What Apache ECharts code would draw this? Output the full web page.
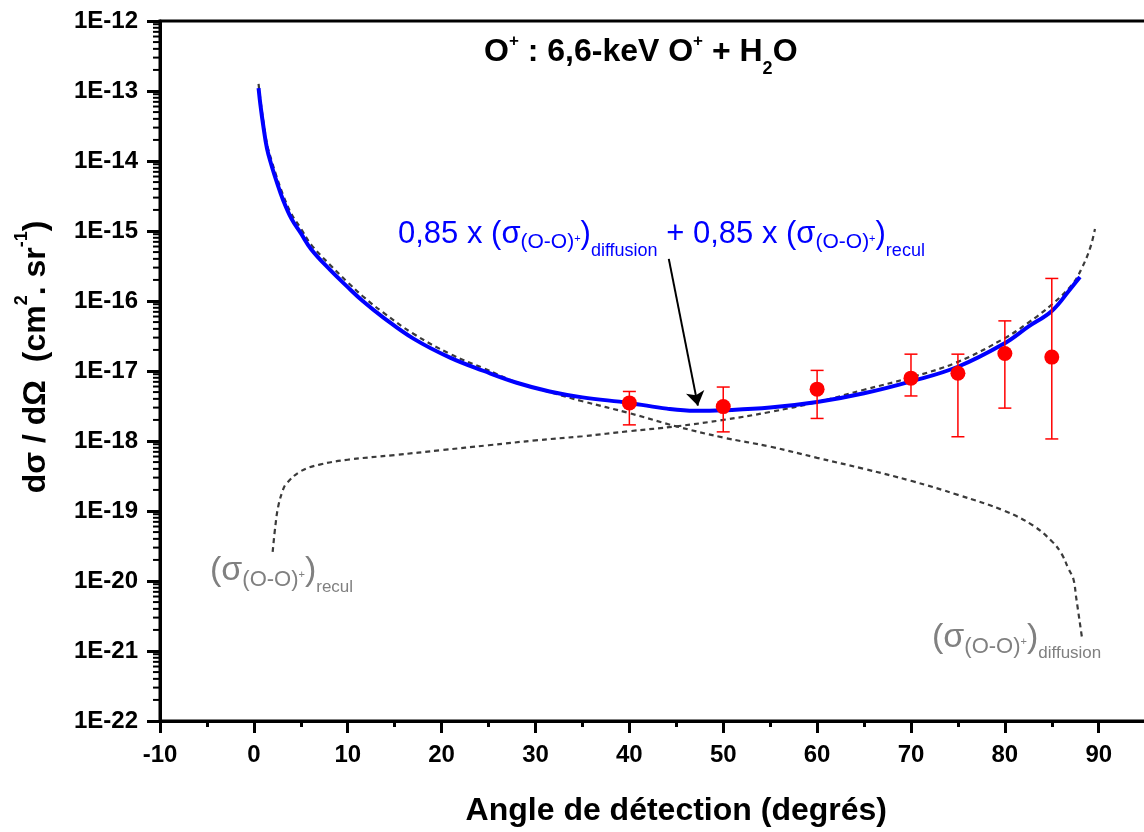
<!DOCTYPE html>
<html><head><meta charset="utf-8">
<script src="https://cdn.jsdelivr.net/npm/echarts@6/dist/echarts.min.js"></script>
<style>html,body{margin:0;padding:0;background:#fff}#c{width:1144px;height:832px}</style>
</head><body><div id="c"></div>
<script>
// ---- data ----
const blueAngle = [0.5, 0.7, 1.0, 1.4, 1.9, 2.4, 3.1, 4.0, 5.0, 6.1, 8.1, 10, 11.6, 13.8, 17, 20.9, 24.5, 28, 31.5, 35, 40, 44, 47, 50, 55, 60, 65, 70, 75, 80, 82.5, 85, 87, 88];
const blueValue = [1.1e-13, 6.3e-14, 3.2e-14, 1.5e-14, 8.5e-15, 5.2e-15, 2.8e-15, 1.5e-15, 9.3e-16, 5.5e-16, 2.8e-16, 1.58e-16, 1.0e-16, 5.8e-17, 2.9e-17, 1.55e-17, 1.0e-17, 6.8e-18, 5.1e-18, 4.2e-18, 3.5e-18, 2.9e-18, 2.7e-18, 2.75e-18, 3.0e-18, 3.6e-18, 4.8e-18, 7.1e-18, 1.15e-17, 2.5e-17, 4.3e-17, 7.2e-17, 1.5e-16, 2.2e-16];

const diffAngle = [0.5, 0.7, 1.0, 1.4, 1.9, 2.4, 3.1, 4.0, 5.0, 6.1, 8.1, 10, 11.6, 13.8, 17, 20.9, 24.5, 28, 31.5, 35, 40, 45, 50, 55, 60, 65, 70, 75, 80, 83, 85, 86, 86.8, 87.3, 87.6, 88.2];
const diffValue = [1.26e-13, 7.4e-14, 3.75e-14, 1.75e-14, 1.0e-14, 6.1e-15, 3.3e-15, 1.75e-15, 1.09e-15, 6.4e-16, 3.3e-16, 1.85e-16, 1.17e-16, 6.8e-17, 3.4e-17, 1.75e-17, 1.09e-17, 6.9e-18, 5.0e-18, 3.7e-18, 2.5e-18, 1.62e-18, 1.12e-18, 8.3e-19, 5.75e-19, 4.0e-19, 2.7e-19, 1.7e-19, 1.0e-19, 6.2e-20, 3.7e-20, 2.5e-20, 1.48e-20, 1.07e-20, 5.8e-21, 1.6e-21];

const reculAngle = [2.0, 2.3, 2.6, 3.1, 3.5, 5, 7, 10, 15, 20, 25, 30, 35, 40, 45, 50, 55, 60, 65, 70, 75, 80, 82.4, 85, 87.2, 88.2, 89.1, 89.6];
const reculValue = [2.6e-20, 6.3e-20, 1.17e-19, 2.0e-19, 2.5e-19, 3.7e-19, 4.6e-19, 5.4e-19, 6.3e-19, 7.4e-19, 8.7e-19, 1.02e-18, 1.17e-18, 1.38e-18, 1.62e-18, 2.0e-18, 2.6e-18, 3.6e-18, 5.4e-18, 8.1e-18, 1.35e-17, 2.95e-17, 4.8e-17, 8.9e-17, 1.74e-16, 2.95e-16, 5.8e-16, 1.07e-15];

const expAngle = [40, 50, 60, 70, 75, 80, 85];
const expValue = [3.5e-18, 3.1e-18, 5.5e-18, 7.9e-18, 9.3e-18, 1.78e-17, 1.58e-17];
const expHigh  = [5.1e-18, 5.9e-18, 1.02e-17, 1.74e-17, 1.74e-17, 5.2e-17, 2.1e-16];
const expLow   = [1.7e-18, 1.35e-18, 2.1e-18, 4.4e-18, 1.15e-18, 2.95e-18, 1.07e-18];

const arrowFrom = [44.2, 4.0e-16];
const arrowTo   = [47.3, 3.2e-18];

const xMin = -10, xMax = 100, xStep = 10;
const yMinExp = -22, yMaxExp = -12;
const yTickValues = [1e-22, 1e-21, 1e-20, 1e-19, 1e-18, 1e-17, 1e-16, 1e-15, 1e-14, 1e-13, 1e-12];

// ---- helpers ----
const FF = '"Liberation Sans", Arial, Helvetica, sans-serif';
function tk(size, off, extra) {
  return Object.assign({
    fontSize: size, fontFamily: FF, verticalAlign: 'middle',
    padding: off >= 0 ? [2 * off, 0, 0, 0] : [0, 0, -2 * off, 0]
  }, extra || {});
}
function zip(a, b) { return a.map((v, i) => [v, b[i]]); }

const minorTickVals = [];
for (let e = yMinExp; e < yMaxExp; e++) {
  for (let k = 2; k <= 9; k++) minorTickVals.push([xMin, k * Math.pow(10, e)]);
}

const chart = echarts.init(document.getElementById('c'), null, {renderer: 'canvas'});

const blueC = '#0000ff', greyC = '#808080';
function annot(x, y, text, color, mainSize, subSize, subOff, plusSize, plusOff, smallSize, smallOff, bold) {
  const w = bold ? 'bold' : 'normal';
  return {
    type: 'text', x: x, y: y, z: 100, silent: true,
    style: {
      text: text, align: 'left', verticalAlign: 'middle',
      rich: {
        m: tk(mainSize, 0, {fill: color, fontWeight: w, lineHeight: 70}),
        s: tk(subSize, subOff, {fill: color, fontWeight: w}),
        p: tk(plusSize, plusOff, {fill: color, fontWeight: w}),
        d: tk(smallSize, smallOff, {fill: color, fontWeight: w})
      }
    }
  };
}

const lineCommon = {symbol: 'none', smooth: 0.4, silent: true};

const option = {
  animation: false,
  backgroundColor: '#fff',
  grid: {left: 160, top: 21, width: 1032.6, height: 700, show: true, borderColor: '#000', borderWidth: 3,
    backgroundColor: 'transparent', containLabel: false, outerBoundsMode: 'none'},
  xAxis: {
    type: 'value', min: xMin, max: xMax, interval: xStep,
    name: 'Angle de détection (degrés)', nameLocation: 'middle', nameGap: 74,
    nameTextStyle: {fontSize: 32, fontWeight: 'bold', color: '#000', fontFamily: FF},
    axisLine: {show: true, onZero: false, lineStyle: {color: '#000', width: 3}},
    axisTick: {show: true, inside: false, length: 12, lineStyle: {color: '#000', width: 3}},
    minorTick: {show: true, splitNumber: 2, length: 6, lineStyle: {color: '#000', width: 3}},
    axisLabel: {fontSize: 24, fontWeight: 'bold', color: '#000', fontFamily: FF, margin: 22, showMinLabel: true},
    splitLine: {show: false}, minorSplitLine: {show: false}
  },
  yAxis: {
    type: 'log', logBase: 10, min: Math.pow(10, yMinExp), max: Math.pow(10, yMaxExp), splitNumber: 10, interval: 1,
    name: '{a|dσ / dΩ  (cm}{s|2}{a|. sr}{s|-1}{a|)}', nameLocation: 'middle', nameGap: 101, nameRotate: 90,
    nameMoveOverlap: false,
    nameTextStyle: {
      padding: [0, 0, 0, 28],
      rich: {
        a: tk(32, 0, {fontWeight: 'bold', color: '#000', lineHeight: 40}),
        s: tk(18, -14, {fontWeight: 'bold', color: '#000'})
      }
    },
    axisLine: {show: true, onZero: false, lineStyle: {color: '#000', width: 3}},
    axisTick: {show: true, inside: false, length: 13, customValues: yTickValues, lineStyle: {color: '#000', width: 3}},
    axisLabel: {fontSize: 24, fontWeight: 'bold', color: '#000', fontFamily: FF, margin: 22,
      customValues: yTickValues, showMinLabel: true, showMaxLabel: true, hideOverlap: false,
      formatter: v => '1E' + Math.round(Math.log10(v))},
    splitLine: {show: false}
  },
  graphic: [
    annot(484, 51.9, '{m|O}{p|+}{m| : 6,6-keV O}{p|+}{m| + H}{d|2}{m|O}', '#000', 32, 18, 0, 17, -11, 18, 17, true),
    annot(398, 234.4, '{m|0,85 x (σ}{s|(O-O)}{p|+}{m|)}{d|diffusion}{m| + 0,85 x (σ}{s|(O-O)}{p|+}{m|)}{d|recul}', blueC, 31, 21, 8.3, 11, 4.6, 18, 16.6, false),
    annot(210, 571, '{m|(σ}{s|(O-O)}{p|+}{m|)}{d|recul}', greyC, 34, 22, 8.7, 11, 4, 17, 16.1, false),
    annot(932, 638, '{m|(σ}{s|(O-O)}{p|+}{m|)}{d|diffusion}', greyC, 34, 22, 8.7, 11, 4, 17, 15, false)
  ],
  series: [
    Object.assign({type: 'line', name: 'diffusion', data: zip(diffAngle, diffValue),
      lineStyle: {color: '#3a3a3a', width: 2.2, type: [5, 4]}, z: 2}, lineCommon),
    Object.assign({type: 'line', name: 'recul', data: zip(reculAngle, reculValue),
      lineStyle: {color: '#3a3a3a', width: 2.2, type: [5, 4]}, z: 2}, lineCommon),
    Object.assign({type: 'line', name: 'somme', data: zip(blueAngle, blueValue),
      lineStyle: {color: blueC, width: 4}, z: 3,
      markLine: {silent: true, symbol: ['none', 'arrow'], symbolSize: 14, animation: false,
        lineStyle: {color: '#000', width: 2, type: 'solid'}, label: {show: false},
        data: [[{coord: arrowFrom}, {coord: arrowTo}]]}}, lineCommon),
    {type: 'custom', name: 'minorY', data: minorTickVals, silent: true, clip: false, z: 10,
      renderItem: function (params, api) {
        const p = api.coord([api.value(0), api.value(1)]);
        return {type: 'line', shape: {x1: p[0] - 7, y1: p[1], x2: p[0], y2: p[1]}, style: {stroke: '#000', lineWidth: 2}};
      }},
    {type: 'custom', name: 'err', data: expAngle.map((a, i) => [a, expLow[i], expHigh[i]]), silent: true, z: 4,
      encode: {x: 0, y: [1, 2]},
      renderItem: function (params, api) {
        const lo = api.coord([api.value(0), api.value(1)]);
        const hi = api.coord([api.value(0), api.value(2)]);
        const hw = 6.5, st = {stroke: '#ff0000', lineWidth: 1.5};
        return {type: 'group', children: [
          {type: 'line', shape: {x1: lo[0], y1: lo[1], x2: hi[0], y2: hi[1]}, style: st},
          {type: 'line', shape: {x1: lo[0] - hw, y1: lo[1], x2: lo[0] + hw, y2: lo[1]}, style: st},
          {type: 'line', shape: {x1: hi[0] - hw, y1: hi[1], x2: hi[0] + hw, y2: hi[1]}, style: st}
        ]};
      }},
    {type: 'scatter', name: 'exp', data: zip(expAngle, expValue), symbol: 'circle', symbolSize: 15,
      itemStyle: {color: '#ff0000', opacity: 1}, z: 5, silent: true}
  ]
};
chart.setOption(option);
</script>
</body></html>
